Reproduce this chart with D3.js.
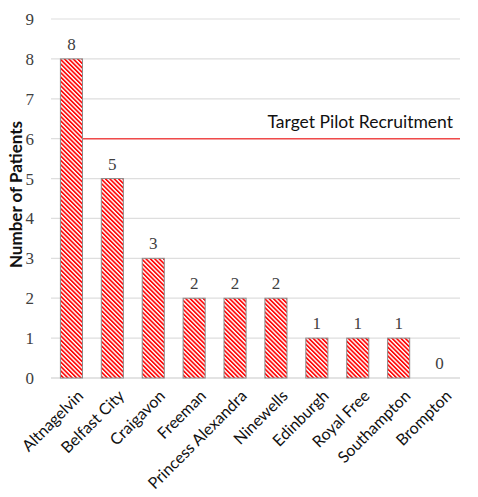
<!DOCTYPE html>
<html>
<head>
<meta charset="utf-8">
<script src="https://cdn.jsdelivr.net/npm/d3@7"></script>
<style>
  body { margin: 0; background: #fff; }
  .num { font-family: "Liberation Serif", "DejaVu Serif", serif; }
  .lab { font-family: Lato, "Open Sans", sans-serif; }
</style>
</head>
<body>
<div id="chart"></div>
<script>
const hospitals = ["Altnagelvin", "Belfast City", "Craigavon", "Freeman", "Princess Alexandra",
  "Ninewells", "Edinburgh", "Royal Free", "Southampton", "Brompton"];
const patients = [8, 5, 3, 2, 2, 2, 1, 1, 1, 0];
const yTicks = [0, 1, 2, 3, 4, 5, 6, 7, 8, 9];
const target = 6;
const targetLabel = "Target Pilot Recruitment";

const width = 478;
const height = 497;
const margin = { top: 19, right: 18, bottom: 119, left: 51 };

const svg = d3.select("#chart").append("svg")
  .attr("width", width)
  .attr("height", height);

const defs = svg.append("defs");
const pat = defs.append("pattern")
  .attr("id", "hatch")
  .attr("patternUnits", "userSpaceOnUse")
  .attr("width", 3.1)
  .attr("height", 3.1)
  .attr("patternTransform", "rotate(-45)");
pat.append("rect").attr("width", 3.1).attr("height", 3.1).attr("fill", "#fff");
pat.append("rect").attr("width", 1.7).attr("height", 3.1).attr("fill", "#ff0a0a");

const x = d3.scaleBand()
  .domain(hospitals)
  .range([margin.left, width - margin.right])
  .paddingInner(0.46)
  .paddingOuter(0.23);

const y = d3.scaleLinear()
  .domain([0, 9])
  .range([height - margin.bottom, margin.top]);

// gridlines
svg.append("g")
  .selectAll("line")
  .data(yTicks)
  .enter()
  .append("line")
  .attr("x1", margin.left)
  .attr("x2", width - margin.right)
  .attr("y1", d => y(d))
  .attr("y2", d => y(d))
  .attr("stroke", d => d === 0 ? "#c8c8c8" : "#dedede")
  .attr("stroke-width", 1.2);

// y tick labels
svg.append("g")
  .selectAll("text")
  .data(yTicks)
  .enter()
  .append("text")
  .attr("class", "num")
  .attr("x", 34)
  .attr("y", d => y(d))
  .attr("dy", "0.35em")
  .attr("text-anchor", "end")
  .attr("font-size", "17px")
  .attr("fill", "#404040")
  .text(d => d);

// target line
svg.append("line")
  .attr("x1", x(hospitals[0]) + x.bandwidth() / 2)
  .attr("x2", width - margin.right)
  .attr("y1", y(target))
  .attr("y2", y(target))
  .attr("stroke", "#f04a4a")
  .attr("stroke-width", 1.5);

// bars
const bars = svg.append("g")
  .selectAll("g")
  .data(hospitals.map((h, i) => ({ name: h, value: patients[i] })))
  .enter()
  .append("g");

bars.filter(d => d.value > 0)
  .append("rect")
  .attr("x", d => x(d.name))
  .attr("y", d => y(d.value))
  .attr("width", x.bandwidth())
  .attr("height", d => y(0) - y(d.value))
  .attr("fill", "url(#hatch)")
  .attr("stroke", "#8c8c8c")
  .attr("stroke-width", 1);

bars.append("text")
  .attr("class", "num")
  .attr("x", d => x(d.name) + x.bandwidth() / 2)
  .attr("y", d => y(d.value) - 9)
  .attr("text-anchor", "middle")
  .attr("font-size", "17px")
  .attr("fill", "#404040")
  .text(d => d.value);

// target label
svg.append("text")
  .attr("class", "lab")
  .attr("x", 453)
  .attr("y", y(target) - 11)
  .attr("text-anchor", "end")
  .attr("font-size", "17.5px")
  .attr("fill", "#111")
  .text(targetLabel);

// x labels
svg.append("g")
  .selectAll("text")
  .data(hospitals)
  .enter()
  .append("text")
  .attr("class", "lab")
  .attr("transform", d => "translate(" + (x(d) + x.bandwidth() / 2 + 5) + "," + (y(0) + 11) + ") rotate(-45)")
  .attr("text-anchor", "end")
  .attr("dy", "0.7em")
  .attr("font-size", "16px")
  .attr("fill", "#111")
  .text(d => d);

// y axis title
svg.append("text")
  .attr("class", "lab")
  .attr("transform", "translate(16," + (y(4.6)) + ") rotate(-90)")
  .attr("text-anchor", "middle")
  .attr("dy", "0.35em")
  .attr("font-weight", "bold")
  .attr("font-size", "17px")
  .attr("fill", "#111")
  .text("Number of Patients");
</script>
</body>
</html>
